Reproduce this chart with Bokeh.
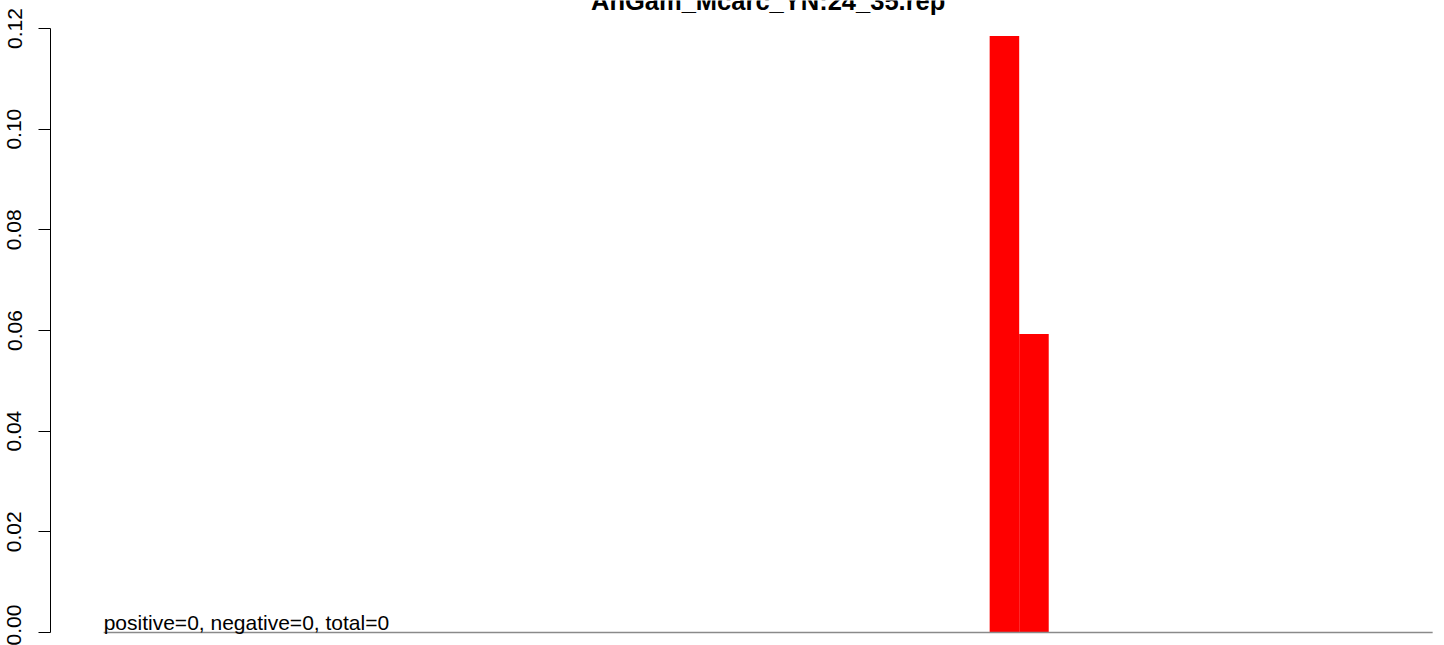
from bokeh.plotting import figure
from bokeh.models import Range1d, FixedTicker, Label, PrintfTickFormatter
from bokeh.embed import file_html
from bokeh.resources import INLINE

# ---- data ----
title_text = "AnGam_Mcarc_YN:24_35.rep"
note_text = "positive=0, negative=0, total=0"
bins = [1, 2, 3, 4, 5, 6, 7, 8, 9, 10, 11, 12, 13, 14, 15,
        16, 17, 18, 19, 20, 21, 22, 23, 24, 25, 26, 27, 28, 29, 30,
        31, 32, 33, 34, 35, 36, 37, 38, 39, 40, 41, 42, 43, 44, 45]
values = [0, 0, 0, 0, 0, 0, 0, 0, 0, 0, 0, 0, 0, 0, 0,
          0, 0, 0, 0, 0, 0, 0, 0, 0, 0, 0, 0, 0, 0, 0,
          0.1185, 0.0593, 0, 0, 0, 0, 0, 0, 0, 0, 0, 0, 0, 0, 0]
y_ticks = [0.00, 0.02, 0.04, 0.06, 0.08, 0.10, 0.12]

FONT = "Liberation Sans"

W, H = 1444, 645
LEFT = 50
n = len(bins)
pad = 0.04 * n
left_edges = [b - 1 for b in bins]
right_edges = [b for b in bins]

# horizontal scale: data span [0, n] covers 1329 px
px_per_unit_x = 1329 / n
x_start = -pad
x_end = x_start + (W - LEFT) / px_per_unit_x

# vertical scale: 0 -> y=632, 0.12 -> y=28 (frame spans the full height)
px_per_unit_y = (632 - 28) / y_ticks[-1]
y_start = -(H - 632) / px_per_unit_y
y_end = y_ticks[-1] + 28 / px_per_unit_y

p = figure(width=W, height=H, output_backend="svg", toolbar_location=None,
           x_range=Range1d(x_start, x_end), y_range=Range1d(y_start, y_end),
           x_axis_location=None, min_border_left=LEFT, min_border_right=0,
           min_border_top=0, min_border_bottom=0)
p.outline_line_color = None
p.xgrid.visible = False
p.ygrid.visible = False
p.background_fill_color = "white"
p.border_fill_color = "white"

ax = p.yaxis[0]
ax.bounds = (y_ticks[0], y_ticks[-1])
ax.ticker = FixedTicker(ticks=y_ticks)
ax.formatter = PrintfTickFormatter(format="%.2f")
ax.major_label_orientation = "vertical"
ax.major_label_text_font = FONT
ax.major_label_text_font_size = "21px"
ax.major_label_text_color = "black"
ax.major_tick_out = 12
ax.major_tick_in = 0
ax.minor_tick_out = 0
ax.minor_tick_in = 0
ax.major_label_standoff = 17
ax.axis_line_color = "black"
ax.major_tick_line_color = "black"

p.quad(left=left_edges, right=right_edges, bottom=[0] * n, top=values,
       fill_color="#FF0000", line_color=None)

p.line([left_edges[0], right_edges[-1]], [0, 0], line_color="#8a8a8a", line_width=1.5)

p.add_layout(Label(x=left_edges[0], y=0, text=note_text, text_font=FONT,
                   text_font_size="21px", text_align="left",
                   text_baseline="alphabetic", y_offset=10, text_color="black"))

p.add_layout(Label(x=(left_edges[0] + right_edges[-1]) / 2, y=y_ticks[-1],
                   text=title_text, text_font=FONT, text_font_size="25.5px",
                   text_font_style="bold", text_align="center",
                   text_baseline="alphabetic", y_offset=28, text_color="black"))

open("out.html", "w").write(file_html(p, INLINE))
